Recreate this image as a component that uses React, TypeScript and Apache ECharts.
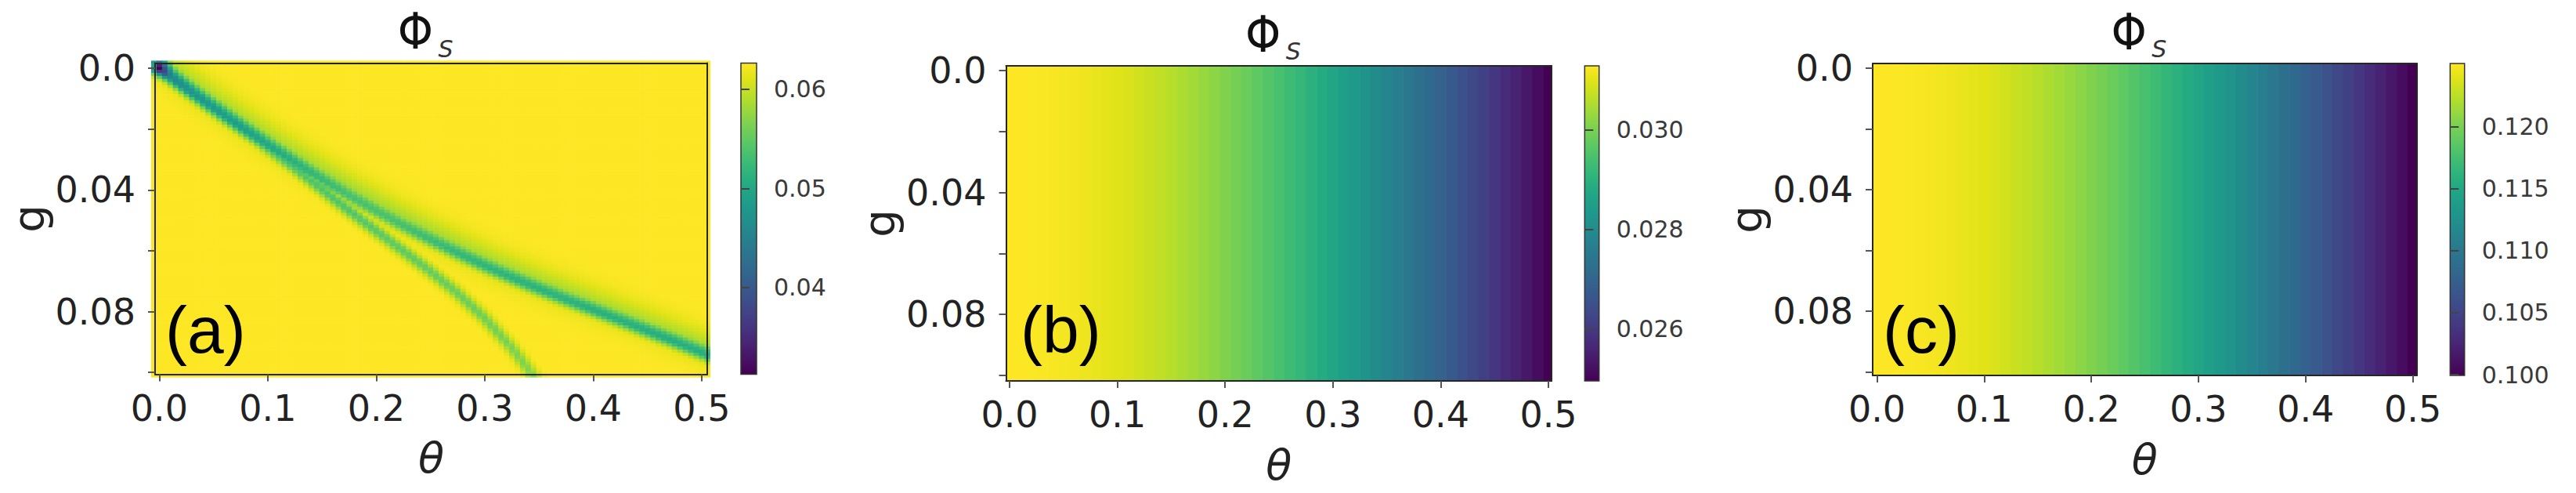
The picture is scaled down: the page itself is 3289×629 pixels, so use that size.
import React, { useEffect, useRef } from "react";
import * as echarts from "echarts";

// ---------------- tick values & labels ----------------
const THETA_TICKS = [0, 0.1, 0.2, 0.3, 0.4, 0.5];
const G_TICKS = [0, 0.02, 0.04, 0.06, 0.08, 0.1];
const G_LABELED_TICKS = [0, 0.04, 0.08];
const G_TICK_TEXT = ["0.0", "0.04", "0.08"];
const X_NAME = "θ";
const Y_NAME = "g";
const TITLE_MAIN = "Φ";
const TITLE_SUB = "S";
const PANEL_TAGS = ["(a)", "(b)", "(c)"];

const CBAR_TICKS_A = [0.04, 0.05, 0.06];
const CBAR_TICKS_B = [0.026, 0.028, 0.03];
const CBAR_TICKS_C = [0.1, 0.105, 0.11, 0.115, 0.12];
const CBAR_DECIMALS = [2, 3, 3];

// colour ranges of the three colour bars (min, max of Φ_S)
const RANGE_A = [0.03127, 0.06262];
const RANGE_B = [0.02496, 0.03129];
const RANGE_C = [0.09995, 0.12507];

const VIRIDIS = [
  "#440154", "#471365", "#482475", "#463480", "#414487", "#3b528b", "#355f8d",
  "#2f6c8e", "#2a788e", "#25848e", "#21918c", "#1e9c89", "#22a884", "#2fb47c",
  "#44bf70", "#5ec962", "#7ad151", "#9bd93c", "#bddf26", "#dfe318", "#fde725",
];

// ---------------- panel (a): background level and two ridges ----------------
const A_BACKGROUND = 0.06262;
const A_HALO_DEPTH = 0.005;
const A_MAIN_THETA = [0, 0.01, 0.025, 0.05, 0.075, 0.1, 0.125, 0.15, 0.175, 0.2, 0.225, 0.25, 0.275, 0.3, 0.325, 0.35, 0.375, 0.4, 0.425, 0.45, 0.475, 0.5, 0.51];
const A_MAIN_G = [0, 0.0027, 0.0067, 0.0131, 0.0193, 0.0253, 0.0311, 0.0366, 0.0419, 0.047, 0.0518, 0.0564, 0.0608, 0.065, 0.0689, 0.0726, 0.0761, 0.0795, 0.0829, 0.0864, 0.0899, 0.0935, 0.095];
const A_MAIN_PHI = [0.03127, 0.04538, 0.04695, 0.0482, 0.04883, 0.04977, 0.05102, 0.05227, 0.05322, 0.05353, 0.05322, 0.05259, 0.05196, 0.05165, 0.05133, 0.05133, 0.05133, 0.05102, 0.05102, 0.05071, 0.05071, 0.05071, 0.05071];
const A_SECOND_THETA = [0, 0.025, 0.05, 0.075, 0.1, 0.125, 0.15, 0.175, 0.2, 0.225, 0.25, 0.275, 0.3, 0.325, 0.35];
const A_SECOND_G = [0, 0.0068, 0.0133, 0.0197, 0.0262, 0.0328, 0.0398, 0.0468, 0.0535, 0.0601, 0.0668, 0.074, 0.0822, 0.092, 0.1035];
const A_SECOND_PHI = [0.05322, 0.05384, 0.05384, 0.05384, 0.05384, 0.05384, 0.05384, 0.05384, 0.05447, 0.05478, 0.0551, 0.05541, 0.05572, 0.05635, 0.05698];

// ---------------- panels (b), (c): Φ_S per θ column ----------------
const BC_THETA = Array.from({ length: 51 }, (_, k) => k / 100);
const B_PHI = [0.03129, 0.03129, 0.03128, 0.03126, 0.03124, 0.03121, 0.03118, 0.03114, 0.03109, 0.03104, 0.03098, 0.03092, 0.03085, 0.03077, 0.03069, 0.0306, 0.03051, 0.03041, 0.0303, 0.0302, 0.03008, 0.02996, 0.02984, 0.02971, 0.02957, 0.02944, 0.02929, 0.02915, 0.02899, 0.02884, 0.02868, 0.02852, 0.02835, 0.02818, 0.02801, 0.02783, 0.02766, 0.02747, 0.02729, 0.0271, 0.02692, 0.02673, 0.02653, 0.02634, 0.02615, 0.02595, 0.02575, 0.02556, 0.02536, 0.02516, 0.02496];
const C_PHI = [0.12507, 0.12506, 0.12502, 0.12496, 0.12487, 0.12476, 0.12463, 0.12447, 0.12428, 0.12407, 0.12384, 0.12359, 0.12331, 0.123, 0.12268, 0.12233, 0.12196, 0.12157, 0.12116, 0.12073, 0.12027, 0.1198, 0.11931, 0.11879, 0.11826, 0.11771, 0.11715, 0.11656, 0.11596, 0.11535, 0.11472, 0.11407, 0.11341, 0.11274, 0.11205, 0.11135, 0.11065, 0.10993, 0.1092, 0.10846, 0.10771, 0.10696, 0.1062, 0.10543, 0.10466, 0.10388, 0.1031, 0.10231, 0.10153, 0.10074, 0.09995];

// ---------------- layout ----------------
const PANELS = [
  { left: 198, top: 80.5, width: 705, height: 397, xr: [-0.0039, 0.5051], yr: [-0.0017, 0.1006], cbLeft: 946, cbWidth: 20, tagX: 211, tagY: 421 },
  { left: 1284.5, top: 84, width: 696.5, height: 402, xr: [-0.0033, 0.5029], yr: [-0.0016, 0.1019], cbLeft: 2023.3, cbWidth: 18.4, tagX: 1303, tagY: 421 },
  { left: 2391, top: 81, width: 694.5, height: 398, xr: [-0.004, 0.5036], yr: [-0.0015, 0.1012], cbLeft: 3128.3, cbWidth: 18.4, tagX: 2404, tagY: 421 },
];

const FONT = "'DejaVu Sans', sans-serif";
const ASPECT = 0.357; // θ unit expressed in g units at the plot's pixel aspect
const A_DT = 0.005;
const A_DG = 0.001;
const BC_DT = 0.01;

function nearestOnRidge(ts: number[], gs: number[], phis: number[], x: number, y: number) {
  let best = { d: Infinity, phi: 0, side: 0 };
  for (let i = 0; i < ts.length - 1; i++) {
    const x0 = ts[i] * ASPECT, y0 = gs[i], x1 = ts[i + 1] * ASPECT, y1 = gs[i + 1];
    const dx = x1 - x0, dy = y1 - y0;
    const L = dx * dx + dy * dy;
    let t = ((x - x0) * dx + (y - y0) * dy) / L;
    t = Math.max(0, Math.min(1, t));
    const cx = x0 + t * dx, cy = y0 + t * dy;
    const d = Math.hypot(x - cx, y - cy);
    if (d < best.d) best = { d, phi: phis[i] + t * (phis[i + 1] - phis[i]), side: dx * (y - y0) - dy * (x - x0) };
  }
  return best;
}

function buildCellsA(): number[][] {
  const cells: number[][] = [];
  for (let k = -1; k <= 101; k++) {
    const th = k * A_DT;
    for (let j = -2; j <= 101; j++) {
      const g = j * A_DG;
      const m = nearestOnRidge(A_MAIN_THETA, A_MAIN_G, A_MAIN_PHI, th * ASPECT, g);
      const s = nearestOnRidge(A_SECOND_THETA, A_SECOND_G, A_SECOND_PHI, th * ASPECT, g);
      const up = m.side < 0;
      const sm = up ? 0.003 : 0.0022;
      const dipMain = (A_BACKGROUND - m.phi) * Math.exp(-((m.d / sm) ** 2));
      const halo = up ? A_HALO_DEPTH * Math.exp(-((m.d / 0.0065) ** 2)) : 0.0015 * Math.exp(-((m.d / 0.005) ** 2));
      const dipSec = (A_BACKGROUND - s.phi) * Math.exp(-((s.d / 0.002) ** 2));
      cells.push([th, g, A_BACKGROUND - Math.max(dipMain, halo, dipSec)]);
    }
  }
  return cells;
}

function buildOption() {
  const grids: any[] = [];
  const xAxes: any[] = [];
  const yAxes: any[] = [];
  const series: any[] = [];
  const visualMaps: any[] = [];
  const graphics: any[] = [];
  const ranges = [RANGE_A, RANGE_B, RANGE_C];
  const cbTicks = [CBAR_TICKS_A, CBAR_TICKS_B, CBAR_TICKS_C];
  const frame = { show: true, onZero: false, lineStyle: { color: "#262626", width: 2 } };
  const cellsA = buildCellsA();

  PANELS.forEach((p, i) => {
    const range = ranges[i];
    grids.push({ left: p.left, top: p.top, width: p.width, height: p.height, containLabel: false, outerBoundsMode: "none" });
    grids.push({ left: p.cbLeft, top: p.top, width: p.cbWidth, height: p.height, containLabel: false, outerBoundsMode: "none" });
    const g0 = 2 * i, g1 = 2 * i + 1;

    xAxes.push({
      type: "value", gridIndex: g0, position: "bottom", min: p.xr[0], max: p.xr[1], z: 10,
      name: X_NAME, nameLocation: "middle", nameGap: 80,
      nameTextStyle: { fontSize: 54, fontStyle: "italic", fontFamily: FONT, color: "#222" },
      axisLine: frame,
      axisTick: { show: true, customValues: THETA_TICKS, length: 9, lineStyle: { color: "#555", width: 2 } },
      axisLabel: { show: true, customValues: THETA_TICKS, formatter: (v: number) => v.toFixed(1), fontSize: 46, fontFamily: FONT, color: "#222", margin: 20 },
      splitLine: { show: false },
    });
    xAxes.push({
      type: "value", gridIndex: g0, position: "top", min: p.xr[0], max: p.xr[1], z: 10,
      axisLine: frame, axisTick: { show: false }, axisLabel: { show: false }, splitLine: { show: false },
    });
    xAxes.push({ type: "value", gridIndex: g1, min: 0, max: 1, show: false });

    yAxes.push({
      type: "value", gridIndex: g0, position: "left", inverse: true, min: p.yr[0], max: p.yr[1], z: 10,
      name: Y_NAME, nameLocation: "middle", nameGap: 134,
      nameTextStyle: { fontSize: 56, fontFamily: FONT, color: "#222" },
      axisLine: frame,
      axisTick: { show: true, customValues: G_TICKS, length: 9, lineStyle: { color: "#555", width: 2 } },
      axisLabel: {
        show: true, customValues: G_LABELED_TICKS,
        formatter: (v: number) => {
          let bi = 0;
          G_LABELED_TICKS.forEach((t, k) => { if (Math.abs(t - v) < Math.abs(G_LABELED_TICKS[bi] - v)) bi = k; });
          return G_TICK_TEXT[bi];
        },
        fontSize: 46, fontFamily: FONT, color: "#222", margin: 25,
      },
      splitLine: { show: false },
    });
    yAxes.push({
      type: "value", gridIndex: g0, position: "right", inverse: true, min: p.yr[0], max: p.yr[1], z: 10,
      axisLine: frame, axisTick: { show: false }, axisLabel: { show: false }, splitLine: { show: false },
    });
    yAxes.push({
      type: "value", gridIndex: g1, position: "right", min: range[0], max: range[1], z: 10,
      axisLine: { show: false },
      axisTick: { show: true, customValues: cbTicks[i], length: 11, lineStyle: { color: "#444", width: 2 } },
      axisLabel: { show: true, customValues: cbTicks[i], formatter: (v: number) => v.toFixed(CBAR_DECIMALS[i]), fontSize: 30, fontFamily: FONT, color: "#3a3a3a", margin: 22 },
      splitLine: { show: false },
    });

    if (i === 0) {
      series.push({
        type: "custom", xAxisIndex: 3 * i, yAxisIndex: 3 * i, clip: true, silent: true, animation: false,
        encode: { x: 0, y: 1 }, data: cellsA,
        renderItem: (_: any, api: any) => {
          const t = api.value(0), g = api.value(1);
          const p0 = api.coord([t - A_DT / 2, g - A_DG / 2]);
          const p1 = api.coord([t + A_DT / 2, g + A_DG / 2]);
          return {
            type: "rect",
            shape: { x: Math.min(p0[0], p1[0]), y: Math.min(p0[1], p1[1]), width: Math.abs(p1[0] - p0[0]) + 0.6, height: Math.abs(p1[1] - p0[1]) + 0.6 },
            style: { fill: api.visual("color") },
          };
        },
      });
    } else {
      const vals = i === 1 ? B_PHI : C_PHI;
      series.push({
        type: "custom", xAxisIndex: 3 * i, yAxisIndex: 3 * i, clip: true, silent: true, animation: false,
        encode: { x: 0, y: 1 }, data: BC_THETA.map((t, k) => [t, vals[k]]),
        renderItem: (_: any, api: any) => {
          const t = api.value(0);
          const p0 = api.coord([t - BC_DT / 2, p.yr[0]]);
          const p1 = api.coord([t + BC_DT / 2, p.yr[1]]);
          return {
            type: "rect",
            shape: { x: Math.min(p0[0], p1[0]), y: Math.min(p0[1], p1[1]), width: Math.abs(p1[0] - p0[0]) + 0.6, height: Math.abs(p1[1] - p0[1]) },
            style: { fill: api.visual("color") },
          };
        },
      });
    }
    series.push({
      type: "custom", xAxisIndex: 3 * i + 2, yAxisIndex: 3 * i + 2, silent: true, animation: false,
      data: [[0, range[0]]],
      renderItem: (_: any, api: any) => {
        const p0 = api.coord([0, range[0]]);
        const p1 = api.coord([1, range[1]]);
        return {
          type: "rect",
          shape: { x: p0[0], y: p1[1], width: p1[0] - p0[0], height: p0[1] - p1[1] },
          style: {
            fill: { type: "linear", x: 0, y: 1, x2: 0, y2: 0, colorStops: VIRIDIS.map((c, k) => ({ offset: k / (VIRIDIS.length - 1), color: c })) },
            stroke: "#333", lineWidth: 1.5,
          },
        };
      },
    });
    visualMaps.push({
      type: "continuous", show: false, seriesIndex: 2 * i, dimension: i === 0 ? 2 : 1,
      min: range[0], max: range[1], inRange: { color: VIRIDIS },
    });

    const cx = p.left + p.width / 2;
    graphics.push({
      type: "text", x: cx - 20, y: p.top - 40.5, z: 100,
      style: { text: TITLE_MAIN, fontSize: 64, fontFamily: "'Liberation Sans Narrow', 'DejaVu Sans Condensed', 'DejaVu Sans'", fill: "#111", align: "center", verticalAlign: "middle" },
    });
    graphics.push({
      type: "text", x: cx + 18.5, y: p.top - 18.5, z: 100,
      style: { text: TITLE_SUB, fontSize: 30, fontStyle: "italic", fontFamily: FONT, fill: "#333", align: "center", verticalAlign: "middle" },
    });
    graphics.push({
      type: "text", x: p.tagX, y: p.tagY, z: 100,
      style: { text: PANEL_TAGS[i], fontSize: 84, fontFamily: "'Liberation Sans', Arial, sans-serif", fill: "#000", align: "left", verticalAlign: "middle" },
    });
  });

  return {
    animation: false,
    backgroundColor: "#ffffff",
    grid: grids,
    xAxis: xAxes,
    yAxis: yAxes,
    visualMap: visualMaps,
    series,
    graphic: graphics,
  };
}

export default function App() {
  const ref = useRef<HTMLDivElement>(null);
  useEffect(() => {
    const chart = echarts.init(ref.current!, null, { renderer: "svg" });
    chart.setOption(buildOption() as any);
    return () => chart.dispose();
  }, []);
  return <div ref={ref} style={{ position: "absolute", left: 0, top: 0, width: 3289, height: 629, background: "#fff" }} />;
}
